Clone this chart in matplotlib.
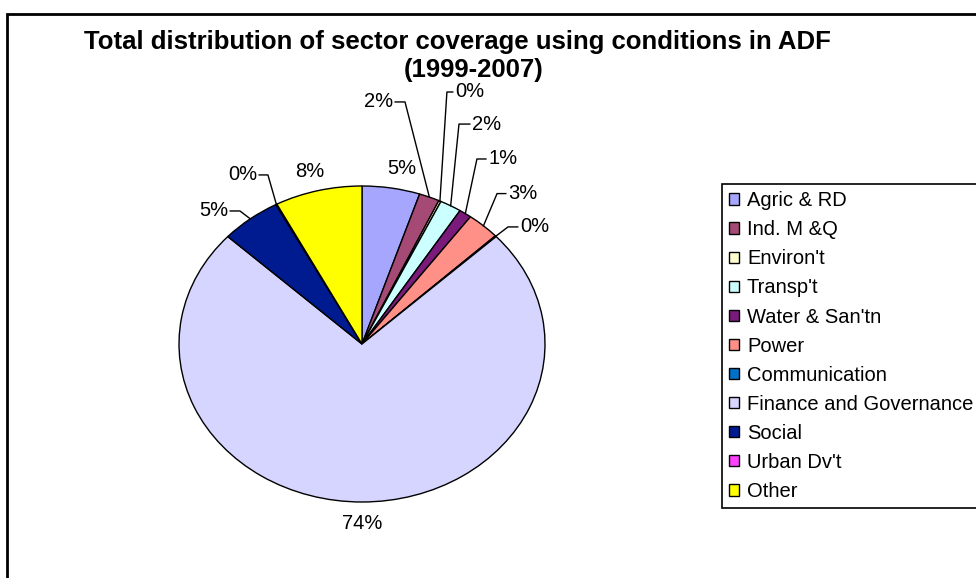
import matplotlib
matplotlib.use("Agg")
import matplotlib.pyplot as plt
from matplotlib.patches import Rectangle
import numpy as np

# ---- data ----
sectors = ["Agric & RD", "Ind. M &Q", "Environ't", "Transp't", "Water & San'tn",
           "Power", "Communication", "Finance and Governance", "Social",
           "Urban Dv't", "Other"]
shares = [5.1, 1.8, 0.2, 1.9, 1.1, 2.9, 0.1, 73.8, 5.3, 0.1, 7.7]
colors = ["#A6A6FF", "#A54A75", "#FFFFCC", "#CCFFFF", "#7A1A7A", "#FF9088",
          "#0070C8", "#D5D5FF", "#001A8F", "#FF40FF", "#FFFF00"]
title_line1 = "Total distribution of sector coverage using conditions in ADF"
title_line2 = "(1999-2007)"

# label placement (pie data units): x, y, ha, elbow_x (None = no leader)
label_pos = [
    (0.219, 1.108, "center", None),
    (0.169, 1.532, "right", 0.235),
    (0.508, 1.595, "left", 0.464),
    (0.601, 1.392, "left", 0.530),
    (0.689, 1.171, "left", 0.628),
    (0.798, 0.952, "left", 0.738),
    (0.863, 0.741, "left", 0.798),
    (0.0, -1.133, "center", None),
    (-0.732, 0.842, "right", -0.667),
    (-0.574, 1.070, "right", -0.514),
    (-0.284, 1.089, "center", None),
]

plt.rcParams["font.family"] = ["Liberation Sans", "DejaVu Sans"]

W, H = 976, 578
fig = plt.figure(figsize=(W / 100, H / 100), dpi=100)
fig.patch.set_facecolor("white")

# outer chart frame (right/bottom run off the picture)
fig.add_artist(Rectangle((7 / W, -0.1), 1.2, (1 - 14 / H) + 0.1,
                         transform=fig.transFigure, fill=False,
                         edgecolor="black", linewidth=2))

fig.text(457 / W, 1 - 42 / H, title_line1, ha="center", va="center",
         fontsize=18.5, fontweight="bold")
fig.text(474 / W, 1 - 70 / H, title_line2, ha="center", va="center",
         fontsize=18.5, fontweight="bold")

cx, cy, rx, ry = 362, 344, 183, 158
ax = fig.add_axes([(cx - rx) / W, (H - cy - ry) / H, 2 * rx / W, 2 * ry / H])
wedges, _ = ax.pie(shares, colors=colors, startangle=90, counterclock=False,
                   wedgeprops=dict(edgecolor="black", linewidth=1))
ax.set_aspect("auto")
ax.set_xlim(-1, 1)
ax.set_ylim(-1, 1)
ax.axis("off")

for w, v, (lx, ly, ha, ex) in zip(wedges, shares, label_pos):
    txt = f"{round(v):d}%"
    ax.text(lx, ly, txt, ha=ha, va="center", fontsize=14.5, clip_on=False)
    if ex is not None:
        mid = np.deg2rad((w.theta1 + w.theta2) / 2)
        px, py = np.cos(mid), np.sin(mid)
        sx = lx - 0.012 if ha == "left" else lx + 0.012
        ax.plot([sx, ex, px], [ly, ly, py], color="black", linewidth=1,
                clip_on=False)

leg = fig.legend(wedges, sectors, loc="upper left",
                 bbox_to_anchor=(722 / W, 1 - 184 / H),
                 bbox_transform=fig.transFigure, borderaxespad=0,
                 fontsize=14.5, frameon=True, fancybox=False, shadow=False,
                 edgecolor="black", framealpha=1,
                 handlelength=0.5, handleheight=0.5, handletextpad=0.38,
                 labelspacing=0.5, borderpad=0.36)
leg.get_frame().set_linewidth(1.2)

fig.savefig("out.png", dpi=100)
